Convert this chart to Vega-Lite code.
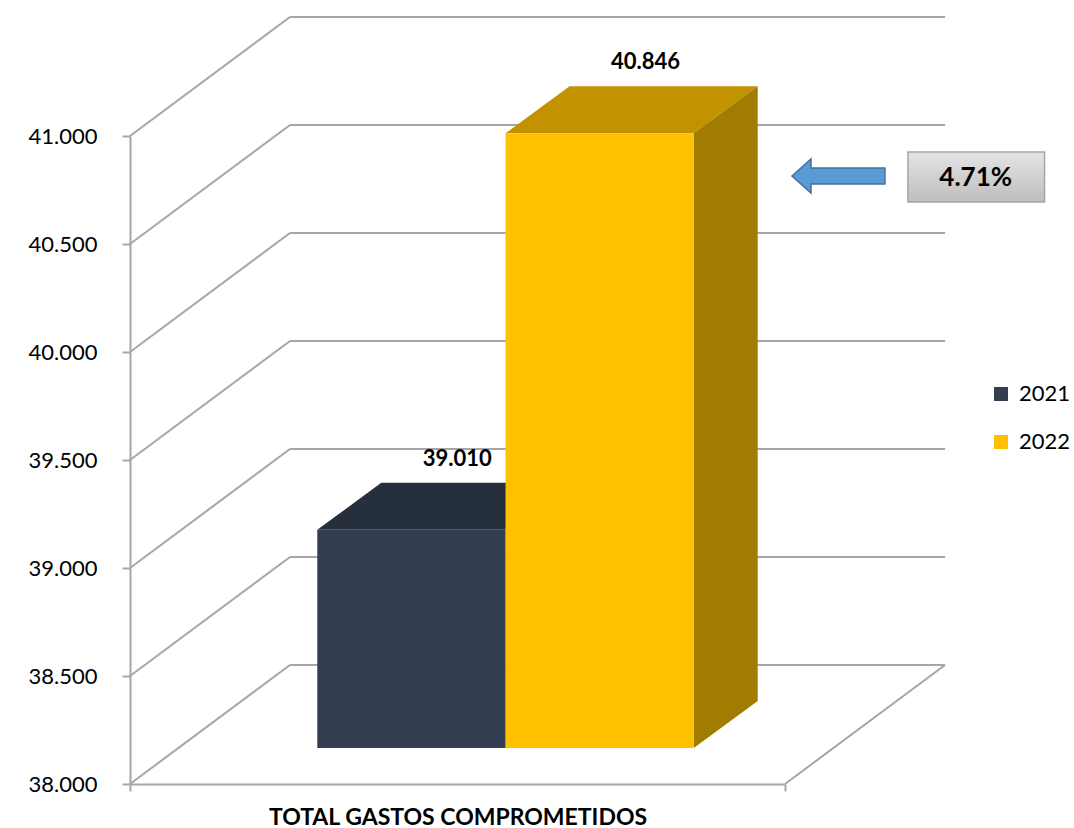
{
  "$schema": "https://vega.github.io/schema/vega-lite/v6.json",
  "width": 655,
  "height": 648,
  "autosize": {"type": "none"},
  "padding": {"left": 130, "top": 136, "right": 289, "bottom": 44},
  "background": "white",
  "config": {
    "font": "Lato",
    "view": {"stroke": null},
    "locale": {"number": {"decimal": ",", "thousands": ".", "grouping": [3], "currency": ["", ""]}},
    "axisX": {
      "labels": false, "grid": false,
      "tickSize": 7, "tickWidth": 2, "tickColor": "#A6A6A6",
      "domainColor": "#A6A6A6", "domainWidth": 2,
      "titleFontSize": 23, "titleFontWeight": "bold", "titleColor": "#000000", "titlePadding": 14
    },
    "axisY": {
      "grid": false, "tickCount": 7,
      "labelFontSize": 22, "labelColor": "#000000", "labelPadding": 25,
      "tickSize": 8, "tickWidth": 2, "tickColor": "#A6A6A6",
      "domainColor": "#A6A6A6", "domainWidth": 2
    }
  },
  "datasets": {
    "gastos": [
      {"year": 2021, "value": 39010},
      {"year": 2022, "value": 40846}
    ],
    "ticks": [
      {"v": 38000}, {"v": 38500}, {"v": 39000}, {"v": 39500},
      {"v": 40000}, {"v": 40500}, {"v": 41000}
    ],
    "annotation": [{"label": "4.71%"}]
  },
  "layer": [
    {
      "data": {"name": "ticks"},
      "mark": {"type": "rule", "color": "#A6A6A6", "strokeWidth": 2, "xOffset": 160, "x2Offset": 160, "yOffset": -119, "y2Offset": -119},
      "encoding": {
        "x": {
          "datum": 2020.26, "type": "quantitative", "title": "TOTAL GASTOS COMPROMETIDOS",
          "scale": {"domain": [2020.26, 2023.74], "nice": false, "zero": false},
          "axis": {"values": [2020.26, 2023.74]}
        },
        "x2": {"datum": 2023.74},
        "y": {
          "field": "v", "type": "quantitative", "title": null,
          "scale": {"domain": [38000, 41000], "nice": false, "zero": false},
          "axis": {"values": [38000, 38500, 39000, 39500, 40000, 40500, 41000], "format": ",.0f"}
        }
      }
    },
    {
      "data": {"name": "ticks"},
      "mark": {"type": "rule", "color": "#A6A6A6", "strokeWidth": 2, "x2Offset": 160, "y2Offset": -119},
      "encoding": {
        "x": {"datum": 2020.26, "type": "quantitative", "title": "TOTAL GASTOS COMPROMETIDOS"},
        "x2": {"datum": 2020.26},
        "y": {"field": "v", "type": "quantitative", "title": null},
        "y2": {"field": "v"}
      }
    },
    {
      "data": {"values": [{"v": 38000}]},
      "mark": {"type": "rule", "color": "#A6A6A6", "strokeWidth": 2, "x2Offset": 160, "y2Offset": -119},
      "encoding": {
        "x": {"datum": 2023.74, "type": "quantitative", "title": "TOTAL GASTOS COMPROMETIDOS"},
        "x2": {"datum": 2023.74},
        "y": {"field": "v", "type": "quantitative", "title": null},
        "y2": {"field": "v"}
      }
    },
    {
      "data": {"name": "gastos"},
      "transform": [
        {"bin": {"step": 1, "extent": [2020, 2024]}, "field": "year", "as": "yb"},
        {"fold": ["year", "value"], "as": ["corner", "cornerValue"]}
      ],
      "mark": {
        "type": "area", "orient": "horizontal",
        "xOffset": {"expr": "datum.corner === 'value' ? 112 : 48"},
        "x2Offset": {"expr": "datum.corner === 'value' ? 112 : 48"},
        "yOffset": {"expr": "datum.corner === 'value' ? -83 : -36"}
      },
      "encoding": {
        "y": {"field": "value", "type": "quantitative", "title": null},
        "x": {"field": "yb", "type": "quantitative", "stack": null, "title": "TOTAL GASTOS COMPROMETIDOS"},
        "x2": {"field": "yb_end"},
        "detail": {"field": "year", "type": "nominal"},
        "color": {"condition": {"test": "datum.year === 2021", "value": "#262F3C"}, "value": "#C29200"}
      }
    },
    {
      "data": {"name": "gastos"},
      "transform": [
        {"bin": {"step": 1, "extent": [2020, 2024]}, "field": "year", "as": "yb"},
        {"fold": ["year", "value"], "as": ["corner", "cornerValue"]}
      ],
      "mark": {
        "type": "area", "orient": "vertical",
        "xOffset": {"expr": "datum.corner === 'value' ? 112 : 48"},
        "yOffset": {"expr": "datum.corner === 'value' ? -83 : -36"},
        "y2Offset": {"expr": "datum.corner === 'value' ? -83 : -36"}
      },
      "encoding": {
        "x": {"field": "yb_end", "type": "quantitative", "title": "TOTAL GASTOS COMPROMETIDOS"},
        "y": {"field": "value", "type": "quantitative", "stack": null, "title": null},
        "y2": {"datum": 38000},
        "detail": {"field": "year", "type": "nominal"},
        "color": {"condition": {"test": "datum.year === 2021", "value": "#1E2530"}, "value": "#A27C00"}
      }
    },
    {
      "data": {"name": "gastos"},
      "transform": [
        {"bin": {"step": 1, "extent": [2020, 2024]}, "field": "year", "as": "yb"}
      ],
      "mark": {"type": "rect", "xOffset": 48, "x2Offset": 48, "yOffset": -36, "y2Offset": -36},
      "encoding": {
        "x": {"field": "yb", "type": "quantitative", "title": "TOTAL GASTOS COMPROMETIDOS"},
        "x2": {"field": "yb_end"},
        "y": {"field": "value", "type": "quantitative", "title": null},
        "y2": {"datum": 38000},
        "color": {
          "field": "year", "type": "nominal",
          "scale": {"domain": [2021, 2022], "range": ["#333F50", "#FFC000"]},
          "legend": {
            "orient": "none", "legendX": 860, "legendY": 247, "title": null,
            "symbolType": "square", "symbolSize": 196, "symbolStrokeWidth": 0,
            "labelFontSize": 22, "labelColor": "#000000", "rowPadding": 26,
            "labelOffset": 7, "padding": 0
          }
        }
      }
    },
    {
      "data": {"name": "gastos"},
      "transform": [
        {"bin": {"step": 1, "extent": [2020, 2024]}, "field": "year", "as": "yb"}
      ],
      "mark": {"type": "text", "dx": 188, "dy": -107, "fontSize": 22, "fontWeight": "bold", "baseline": "middle", "align": "center", "color": "#000000"},
      "encoding": {
        "x": {"field": "yb", "type": "quantitative", "title": "TOTAL GASTOS COMPROMETIDOS"},
        "y": {"field": "value", "type": "quantitative", "title": null},
        "text": {"field": "value", "type": "quantitative", "format": ",.0f"}
      }
    },
    {
      "data": {"name": "annotation"},
      "mark": {
        "type": "point", "filled": true, "opacity": 1,
        "shape": "M -1 0 L -0.59 -0.366 L -0.59 -0.172 L 1 -0.172 L 1 0.172 L -0.59 0.172 L -0.59 0.366 Z",
        "size": 8649, "fill": "#5B9BD5", "stroke": "#41719C", "strokeWidth": 1.5
      },
      "encoding": {
        "x": {"datum": 2024.024, "type": "quantitative", "title": "TOTAL GASTOS COMPROMETIDOS"},
        "y": {"datum": 40814.8, "type": "quantitative", "title": null}
      }
    },
    {
      "data": {"name": "annotation"},
      "mark": {
        "type": "rect", "stroke": "#A6A6A6", "strokeWidth": 1.5,
        "fill": {
          "x1": 0, "y1": 0, "x2": 0, "y2": 1, "gradient": "linear",
          "stops": [{"offset": 0, "color": "#E4E4E4"}, {"offset": 1, "color": "#BEBEBE"}]
        }
      },
      "encoding": {
        "x": {"datum": 2024.393, "type": "quantitative", "title": "TOTAL GASTOS COMPROMETIDOS"},
        "x2": {"datum": 2025.119},
        "y": {"datum": 40925.9, "type": "quantitative", "title": null},
        "y2": {"datum": 40694.4}
      }
    },
    {
      "data": {"name": "annotation"},
      "mark": {"type": "text", "fontSize": 26, "fontWeight": "bold", "color": "#000000", "align": "center", "baseline": "middle"},
      "encoding": {
        "x": {"datum": 2024.753, "type": "quantitative", "title": "TOTAL GASTOS COMPROMETIDOS"},
        "y": {"datum": 40805.6, "type": "quantitative", "title": null},
        "text": {"field": "label", "type": "nominal"}
      }
    }
  ]
}
